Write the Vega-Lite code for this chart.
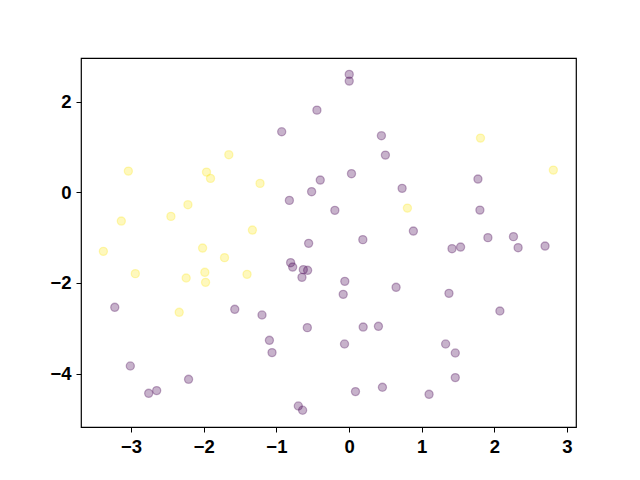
{
  "$schema": "https://vega.github.io/schema/vega-lite/v6.json",
  "autosize": "none",
  "width": 495,
  "height": 369,
  "padding": {"left": 81, "top": 58, "right": 64, "bottom": 53},
  "background": "white",
  "config": {
    "view": {"stroke": "#000000", "strokeWidth": 1.2},
    "axis": {
      "grid": false,
      "domain": false,
      "tickColor": "#000000",
      "tickSize": 5,
      "tickWidth": 1,
      "labelColor": "#000000",
      "labelFont": "Liberation Sans",
      "labelFontWeight": "bold",
      "labelFontSize": 18.5,
      "labelPadding": 5,
      "title": null
    }
  },
  "data": {
    "values": [
      {"x": -3.038, "y": 0.465, "c": "1"},
      {"x": -3.135, "y": -0.637, "c": "1"},
      {"x": -3.382, "y": -1.305, "c": "1"},
      {"x": -2.942, "y": -1.797, "c": "1"},
      {"x": -2.452, "y": -0.534, "c": "1"},
      {"x": -2.218, "y": -0.276, "c": "1"},
      {"x": -2.242, "y": -1.894, "c": "1"},
      {"x": -2.016, "y": -1.233, "c": "1"},
      {"x": -1.962, "y": 0.443, "c": "1"},
      {"x": -1.907, "y": 0.304, "c": "1"},
      {"x": -1.655, "y": 0.827, "c": "1"},
      {"x": -1.714, "y": -1.444, "c": "1"},
      {"x": -1.985, "y": -1.768, "c": "1"},
      {"x": -1.975, "y": -1.989, "c": "1"},
      {"x": -2.338, "y": -2.65, "c": "1"},
      {"x": -1.404, "y": -1.813, "c": "1"},
      {"x": -1.33, "y": -0.836, "c": "1"},
      {"x": -1.225, "y": 0.194, "c": "1"},
      {"x": 0.804, "y": -0.351, "c": "1"},
      {"x": 1.81, "y": 1.193, "c": "1"},
      {"x": 2.813, "y": 0.487, "c": "1"},
      {"x": -0.442, "y": 1.81, "c": "0"},
      {"x": -0.927, "y": 1.334, "c": "0"},
      {"x": -0.396, "y": 0.267, "c": "0"},
      {"x": -0.515, "y": 0.011, "c": "0"},
      {"x": -0.821, "y": -0.181, "c": "0"},
      {"x": -0.556, "y": -1.129, "c": "0"},
      {"x": 0.003, "y": 2.598, "c": "0"},
      {"x": 0.003, "y": 2.45, "c": "0"},
      {"x": 0.446, "y": 1.246, "c": "0"},
      {"x": 0.501, "y": 0.818, "c": "0"},
      {"x": 0.034, "y": 0.408, "c": "0"},
      {"x": 1.775, "y": 0.289, "c": "0"},
      {"x": 0.731, "y": 0.084, "c": "0"},
      {"x": -0.195, "y": -0.401, "c": "0"},
      {"x": 1.802, "y": -0.395, "c": "0"},
      {"x": 0.886, "y": -0.858, "c": "0"},
      {"x": 0.19, "y": -1.047, "c": "0"},
      {"x": 1.912, "y": -1.003, "c": "0"},
      {"x": 2.264, "y": -0.981, "c": "0"},
      {"x": 2.699, "y": -1.189, "c": "0"},
      {"x": 1.418, "y": -1.246, "c": "0"},
      {"x": 1.536, "y": -1.211, "c": "0"},
      {"x": 2.328, "y": -1.224, "c": "0"},
      {"x": -0.058, "y": -1.967, "c": "0"},
      {"x": -0.08, "y": -2.254, "c": "0"},
      {"x": 0.648, "y": -2.099, "c": "0"},
      {"x": 1.376, "y": -2.232, "c": "0"},
      {"x": 2.077, "y": -2.622, "c": "0"},
      {"x": 0.195, "y": -2.975, "c": "0"},
      {"x": 0.405, "y": -2.959, "c": "0"},
      {"x": -0.062, "y": -3.349, "c": "0"},
      {"x": 1.33, "y": -3.349, "c": "0"},
      {"x": 1.463, "y": -3.548, "c": "0"},
      {"x": 1.463, "y": -4.09, "c": "0"},
      {"x": 0.089, "y": -4.399, "c": "0"},
      {"x": 0.46, "y": -4.304, "c": "0"},
      {"x": 1.102, "y": -4.459, "c": "0"},
      {"x": -0.804, "y": -1.555, "c": "0"},
      {"x": -0.776, "y": -1.652, "c": "0"},
      {"x": -0.629, "y": -1.709, "c": "0"},
      {"x": -0.57, "y": -1.724, "c": "0"},
      {"x": -0.648, "y": -1.879, "c": "0"},
      {"x": -3.225, "y": -2.54, "c": "0"},
      {"x": -1.573, "y": -2.584, "c": "0"},
      {"x": -1.198, "y": -2.71, "c": "0"},
      {"x": -0.574, "y": -2.988, "c": "0"},
      {"x": -1.096, "y": -3.268, "c": "0"},
      {"x": -1.06, "y": -3.539, "c": "0"},
      {"x": -3.011, "y": -3.835, "c": "0"},
      {"x": -2.209, "y": -4.128, "c": "0"},
      {"x": -2.758, "y": -4.437, "c": "0"},
      {"x": -2.648, "y": -4.377, "c": "0"},
      {"x": -0.698, "y": -4.717, "c": "0"},
      {"x": -0.639, "y": -4.811, "c": "0"}
    ]
  },
  "mark": {
    "type": "point",
    "shape": "circle",
    "filled": false,
    "size": 66,
    "fillOpacity": 0.3,
    "strokeOpacity": 0.3,
    "strokeWidth": 1.3
  },
  "encoding": {
    "x": {
      "field": "x",
      "type": "quantitative",
      "scale": {"domain": [-3.69, 3.125], "nice": false, "zero": false},
      "axis": {"values": [-3, -2, -1, 0, 1, 2, 3], "format": "d"}
    },
    "y": {
      "field": "y",
      "type": "quantitative",
      "scale": {"domain": [-5.18, 2.96], "nice": false, "zero": false},
      "axis": {"values": [-4, -2, 0, 2], "format": "d"}
    },
    "fill": {
      "field": "c",
      "type": "nominal",
      "scale": {"domain": ["0", "1"], "range": ["#440154", "#fde725"]},
      "legend": null
    },
    "stroke": {
      "field": "c",
      "type": "nominal",
      "scale": {"domain": ["0", "1"], "range": ["#440154", "#fde725"]},
      "legend": null
    }
  }
}
